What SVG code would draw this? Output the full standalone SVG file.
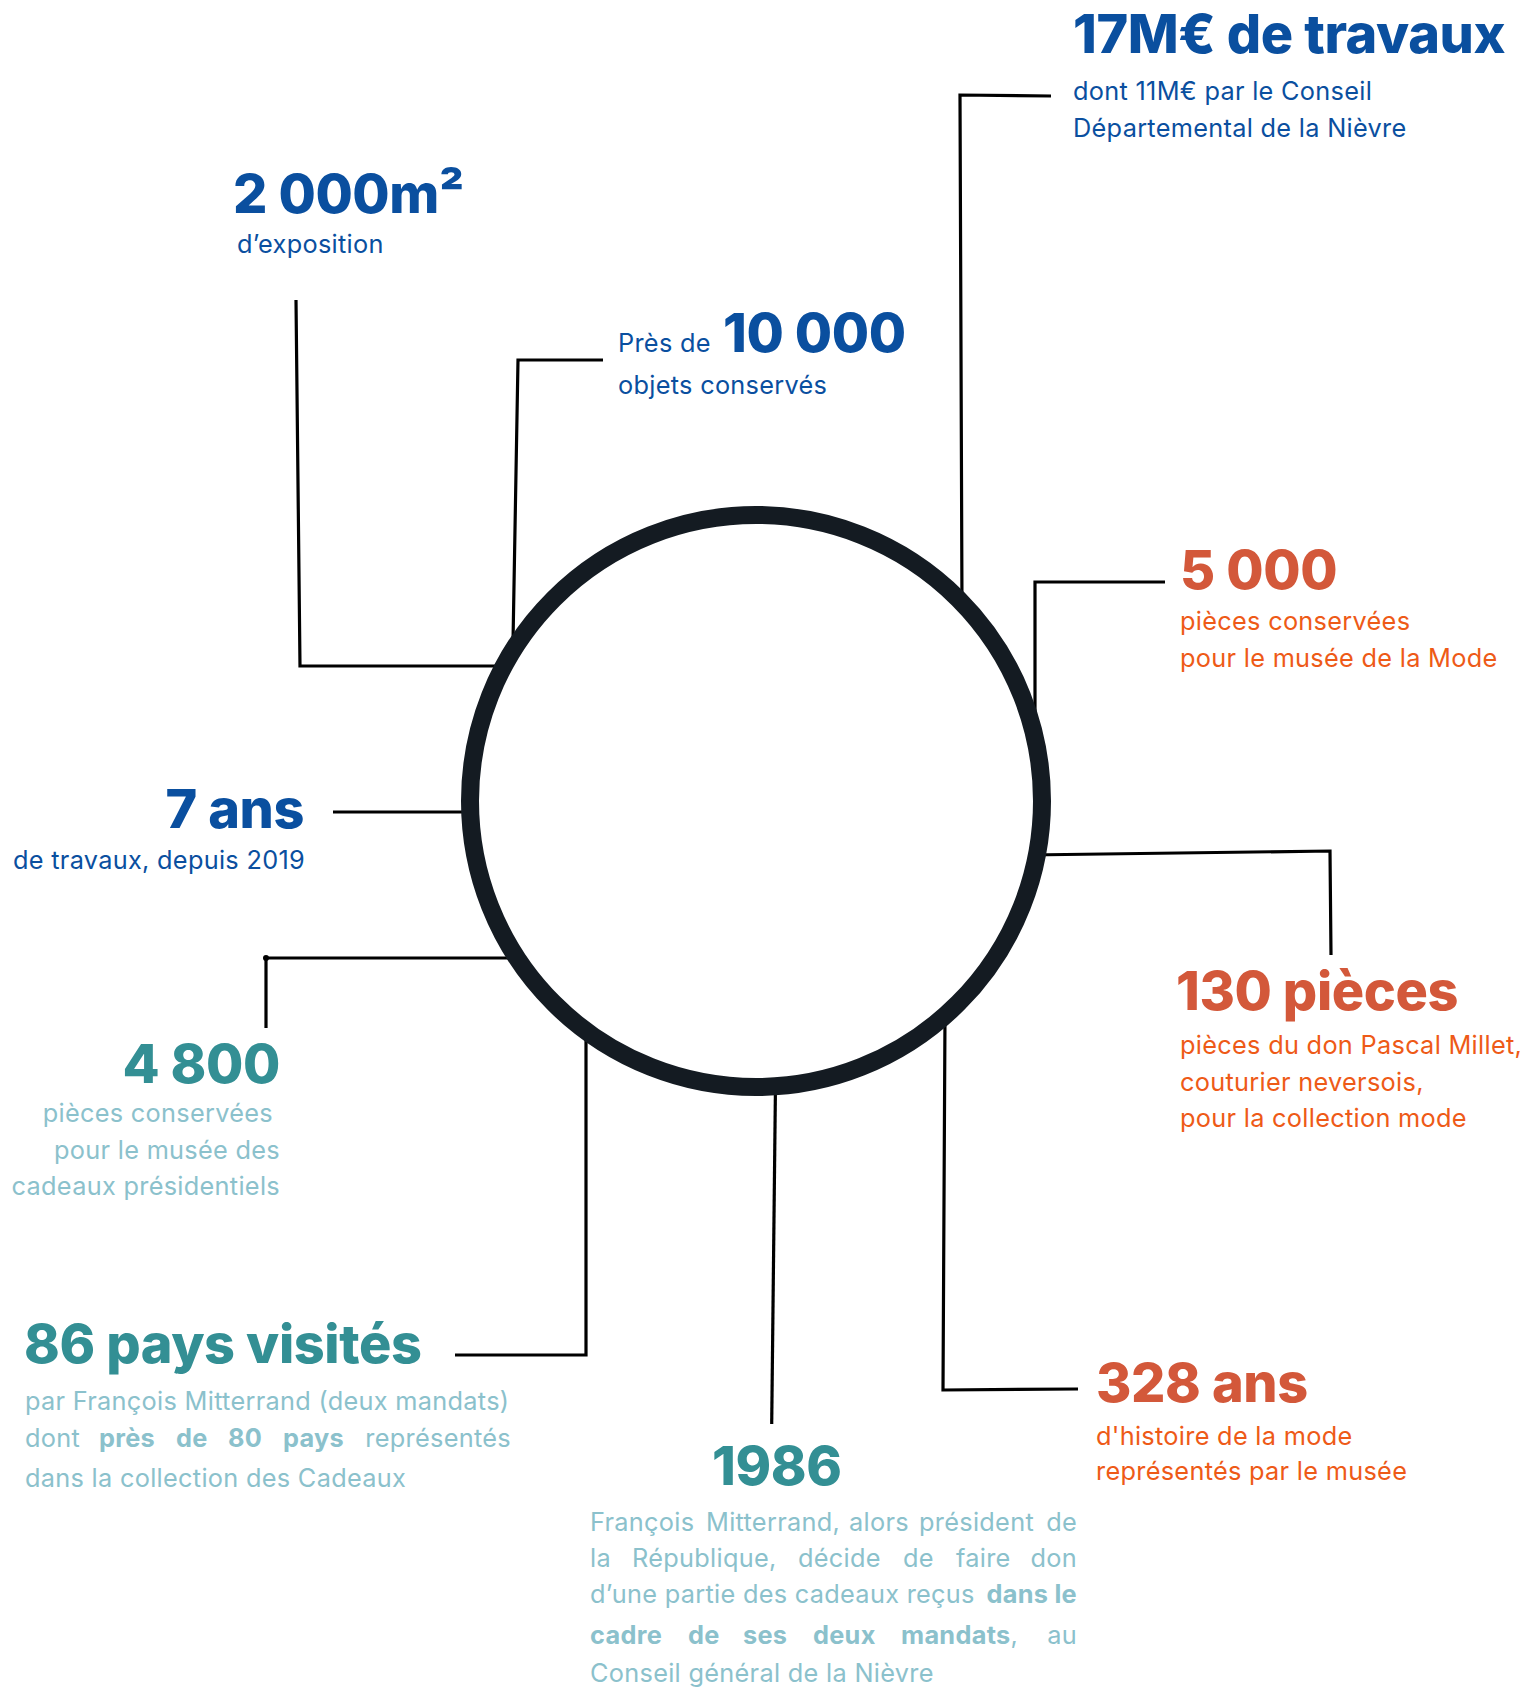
<svg xmlns="http://www.w3.org/2000/svg" width="1523" height="1688" viewBox="0 0 1523 1688">
<style>
text{font-family:Inter,"Liberation Sans",sans-serif}
.h{font-size:54px;font-weight:800;letter-spacing:-0.4px}
.t{font-size:25.3px;font-weight:400;letter-spacing:0.3px}
.b{font-weight:700}
.blue{fill:#0a4f9f}
.orh{fill:#d3583a}
.ort{fill:#ee5a17}
.teh{fill:#338f94}
.tet{fill:#8bc1cc}
.c{fill:none;stroke:#000;stroke-width:3.2;stroke-linejoin:miter}
</style>
<rect width="1523" height="1688" fill="#fff"/>
<g id="connectors">
<polyline class="c" points="296,300 300,666 495,666"/>
<polyline class="c" points="603,360 518,360 513,642"/>
<polyline class="c" points="1051,96 960,95 962,607"/>
<polyline class="c" points="1165,582 1035,582 1035,772"/>
<polyline class="c" points="1028,855 1330,851 1331,955"/>
<line class="c" x1="333" y1="812" x2="462" y2="812"/>
<polyline class="c" points="511,958 266,958 266,1028"/>
<circle cx="266" cy="958" r="3" fill="#000"/>
<polyline class="c" points="455,1355 586,1355 586,1025"/>
<line class="c" x1="775.5" y1="1083" x2="771.7" y2="1424"/>
<polyline class="c" points="945,1015 943,1390 1078,1389"/>
</g>
<g id="center">
<circle cx="756" cy="801" r="286" fill="#fff" stroke="#141b22" stroke-width="18"/>
</g>
<g id="n-17m">
<text class="h blue" x="1073" y="53">17M€ de travaux</text>
<text class="t blue" x="1073" y="100">dont 11M€ par le Conseil</text>
<text class="t blue" x="1073" y="137">Départemental de la Nièvre</text>
</g>
<g id="n-2000">
<text class="h blue" x="233" y="213">2 000m²</text>
<text class="t blue" x="237" y="253">d’exposition</text>
</g>
<g id="n-10000">
<text class="blue" x="618" y="352"><tspan class="t">Près de </tspan><tspan class="h" x="723">10 000</tspan></text>
<text class="t blue" x="618" y="394">objets conservés</text>
</g>
<g id="n-5000">
<text class="h orh" x="1180" y="589">5 000</text>
<text class="t ort" x="1180" y="630">pièces conservées</text>
<text class="t ort" x="1180" y="667">pour le musée de la Mode</text>
</g>
<g id="n-7ans">
<text class="h blue" x="304" y="828" text-anchor="end">7 ans</text>
<text class="t blue" x="305" y="869" text-anchor="end">de travaux, depuis 2019</text>
</g>
<g id="n-130">
<text class="h orh" x="1176" y="1010">130 pièces</text>
<text class="t ort" x="1180" y="1054">pièces du don Pascal Millet,</text>
<text class="t ort" x="1180" y="1091">couturier neversois,</text>
<text class="t ort" x="1180" y="1127">pour la collection mode</text>
</g>
<g id="n-4800">
<text class="h teh" x="280" y="1083" text-anchor="end">4 800</text>
<text class="t tet" x="273" y="1122" text-anchor="end">pièces conservées</text>
<text class="t tet" x="280" y="1159" text-anchor="end">pour le musée des</text>
<text class="t tet" x="280" y="1195" text-anchor="end">cadeaux présidentiels</text>
</g>
<g id="n-86">
<text class="h teh" x="24" y="1363">86 pays visités</text>
<text class="t tet" x="25" y="1410">par François Mitterrand (deux mandats)</text>
<text class="t tet" y="1447"><tspan x="25">dont</tspan><tspan class="b" x="99">près</tspan><tspan class="b" x="176">de</tspan><tspan class="b" x="228">80</tspan><tspan class="b" x="283">pays</tspan><tspan x="511" text-anchor="end">représentés</tspan></text>
<text class="t tet" x="25" y="1487">dans la collection des Cadeaux</text>
</g>
<g id="n-328">
<text class="h orh" x="1096" y="1402">328 ans</text>
<text class="t ort" x="1096" y="1445">d'histoire de la mode</text>
<text class="t ort" x="1096" y="1480">représentés par le musée</text>
</g>
<g id="n-1986">
<text class="h teh" x="712" y="1485">1986</text>
<text class="t tet" y="1531"><tspan x="590">François</tspan><tspan x="706">Mitterrand,</tspan><tspan x="849">alors</tspan><tspan x="919">président</tspan><tspan x="1077" text-anchor="end">de</tspan></text>
<text class="t tet" y="1567"><tspan x="590">la</tspan><tspan x="632">République,</tspan><tspan x="798">décide</tspan><tspan x="903">de</tspan><tspan x="956">faire</tspan><tspan x="1077" text-anchor="end">don</tspan></text>
<text class="t tet" y="1603"><tspan x="590">d’une partie des cadeaux reçus</tspan><tspan class="b" x="1077" text-anchor="end">dans le</tspan></text>
<text class="t tet" y="1644"><tspan class="b" x="590">cadre</tspan><tspan class="b" x="688">de</tspan><tspan class="b" x="743">ses</tspan><tspan class="b" x="813">deux</tspan><tspan class="b" x="901">mandats</tspan><tspan>,</tspan><tspan x="1077" text-anchor="end">au</tspan></text>
<text class="t tet" x="590" y="1682">Conseil général de la Nièvre</text>
</g>
</svg>
